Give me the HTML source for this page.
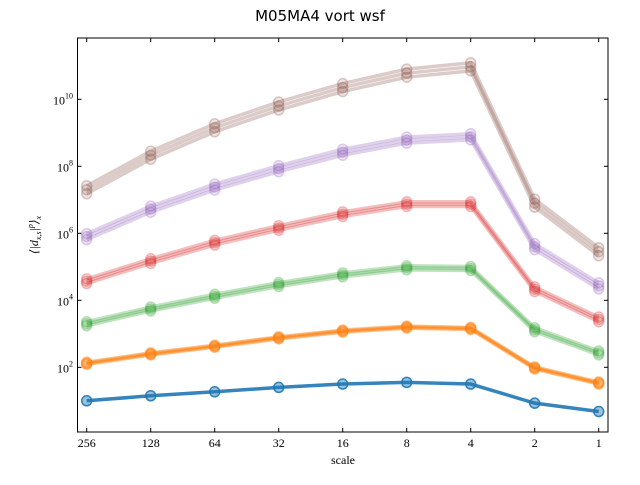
<!DOCTYPE html>
<html><head><meta charset="utf-8"><style>
body{margin:0;background:#fff;}
svg text{font-family:"Liberation Serif","DejaVu Serif",serif;fill:#000;}
</style></head><body>
<svg width="640" height="480" xmlns="http://www.w3.org/2000/svg">
<rect width="640" height="480" fill="#fff"/>
<text x="320" y="21" text-anchor="middle" font-size="15" style="font-family:'DejaVu Sans',sans-serif">M05MA4 vort wsf</text>
<g id="series"></g>
<rect x="77.5" y="38" width="530.5" height="394" fill="none" stroke="#000" stroke-width="1"/>
<g id="ticks"></g>
<text x="343" y="464" text-anchor="middle" font-size="12">scale</text>
<text transform="translate(38,235) rotate(-90)" text-anchor="middle" font-size="12" font-style="italic">⟨|d<tspan font-size="8" dy="3">x,s</tspan><tspan dy="-3">|</tspan><tspan font-size="8" dy="-5">p</tspan><tspan dy="5">⟩</tspan><tspan font-size="8" dy="3">x</tspan></text>
</svg>
<script>
const categories=["256","128","64","32","16","8","4","2","1"];
const yTickExps=[2,4,6,8,10];
const blueLog=[1.0,1.15,1.27,1.4,1.5,1.55,1.5,0.93,0.68];
const orangeLog=[2.12,2.4,2.63,2.88,3.08,3.2,3.16,1.98,1.53];
const greenLog=[3.3,3.74,4.12,4.47,4.76,4.97,4.95,3.12,2.43];
const redLog=[4.57,5.17,5.72,6.16,6.57,6.87,6.87,4.33,3.43];
const purpleLog=[5.9,6.72,7.38,7.93,8.42,8.78,8.88,5.6,4.43];
const brownLog=[7.3,8.33,9.15,9.8,10.35,10.78,10.97,6.9,5.45];
const spreads=[0,0.03,0.06,0.07,0.09,0.12];
const colors=["#1f77b4","#ff7f0e","#2ca02c","#d62728","#9467bd","#8c564b"];
const allSeries=[blueLog,orangeLog,greenLog,redLog,purpleLog,brownLog];
const names=["blue","orange","green","red","purple","brown"];
const NS="http://www.w3.org/2000/svg";
function xs(i){return 86.7+64*i;}
function ys(l){return 434.3-33.5*l;}
const g=document.getElementById('series');
allSeries.forEach((s,k)=>{
  const offs=k===0?[0]:[-spreads[k],0,spreads[k]];
  const alpha=k===0?0.9:(k===1?0.5:0.3);
  offs.forEach((o,j)=>{
    const pts=s.map((v,i)=>xs(i)+','+ys(v+o)).join(' ');
    const pl=document.createElementNS(NS,'polyline');
    
    
    pl.setAttribute('points',pts);pl.setAttribute('fill','none');
    pl.setAttribute('stroke',colors[k]);pl.setAttribute('stroke-width',3.5);
    pl.setAttribute('stroke-opacity',alpha);
    g.appendChild(pl);
    s.forEach((v,i)=>{
      const c=document.createElementNS(NS,'circle');
      
      
      c.setAttribute('cx',xs(i));c.setAttribute('cy',ys(v+o));c.setAttribute('r',5);
      c.setAttribute('fill',colors[k]);c.setAttribute('fill-opacity',alpha*0.5);
      c.setAttribute('stroke',colors[k]);c.setAttribute('stroke-opacity',alpha);c.setAttribute('stroke-width',1.5);
      g.appendChild(c);
    });
  });
});
const t=document.getElementById('ticks');
categories.forEach((c,i)=>{
  [[432,428],[38,42]].forEach(([a,b])=>{
    const l=document.createElementNS(NS,'line');
    
    
    l.setAttribute('x1',xs(i));l.setAttribute('x2',xs(i));l.setAttribute('y1',a);l.setAttribute('y2',b);l.setAttribute('stroke','#000');
    t.appendChild(l);
  });
  const tx=document.createElementNS(NS,'text');
  
  
  tx.setAttribute('x',xs(i));tx.setAttribute('y',447);tx.setAttribute('text-anchor','middle');tx.setAttribute('font-size','12');
  tx.textContent=c;t.appendChild(tx);
});
yTickExps.forEach(e=>{
  [[77.5,81.5],[608,604]].forEach(([a,b])=>{
    const l=document.createElementNS(NS,'line');
    
    
    l.setAttribute('x1',a);l.setAttribute('x2',b);l.setAttribute('y1',ys(e));l.setAttribute('y2',ys(e));l.setAttribute('stroke','#000');
    t.appendChild(l);
  });
  const tx=document.createElementNS(NS,'text');
  
  
  tx.setAttribute('x',73);tx.setAttribute('y',ys(e)+5);tx.setAttribute('text-anchor','end');tx.setAttribute('font-size','12');
  tx.innerHTML='10<tspan font-size="8" dy="-6">'+e+'</tspan>';
  t.appendChild(tx);
});
</script>
</body></html>
